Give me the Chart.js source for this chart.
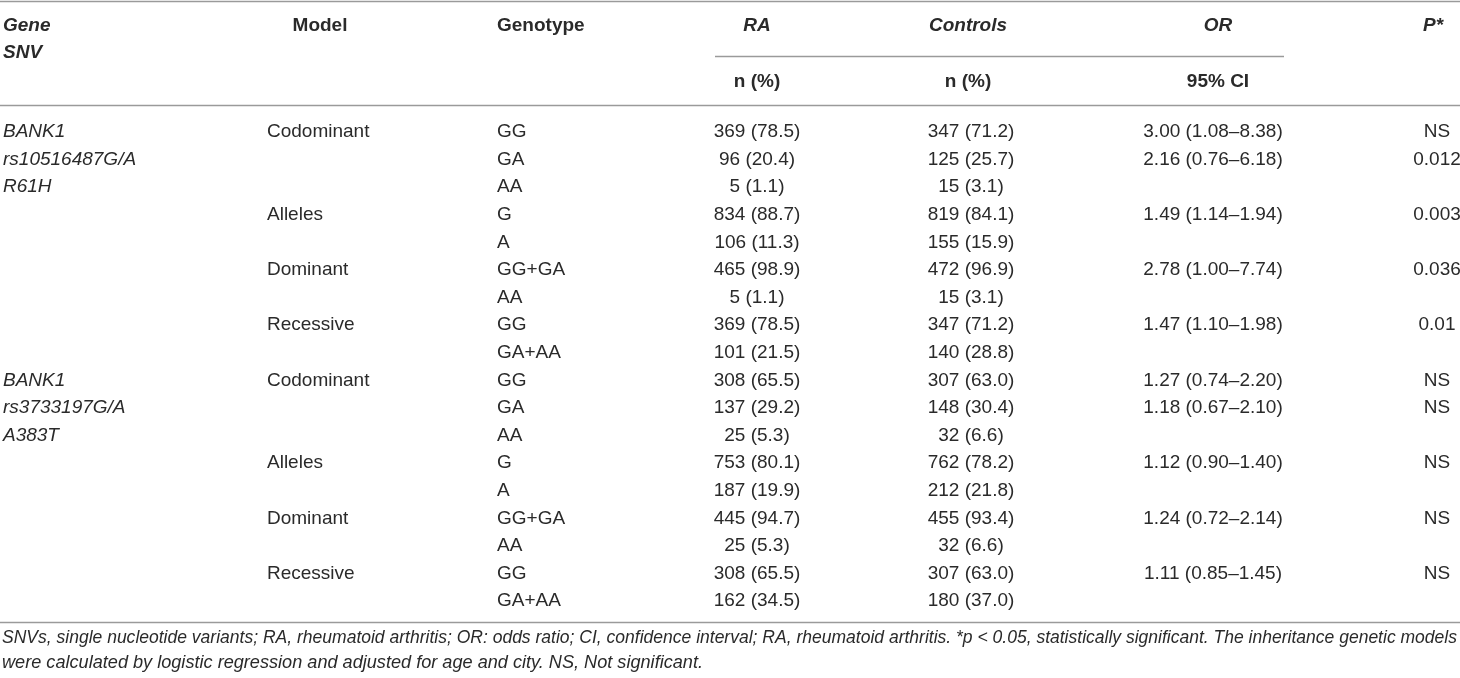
<!DOCTYPE html>
<html>
<head>
<meta charset="utf-8">
<script src="https://cdn.jsdelivr.net/npm/chart.js@4.4.1/dist/chart.umd.min.js"></script>
<style>
  html, body { margin: 0; padding: 0; background: #fff; }
  #wrap { width: 1460px; height: 678px; }
</style>
</head>
<body>
<div id="wrap"><canvas id="snvTable" width="1460" height="678"></canvas></div>
<script>
// table content
const geneBlocks = [['BANK1', 'rs10516487G/A', 'R61H'], ['BANK1', 'rs3733197G/A', 'A383T']];
const models = ['Codominant', '', '', 'Alleles', '', 'Dominant', '', 'Recessive', ''];
const genotypes = ['GG', 'GA', 'AA', 'G', 'A', 'GG+GA', 'AA', 'GG', 'GA+AA'];
const raN = [369, 96, 5, 834, 106, 465, 5, 369, 101, 308, 137, 25, 753, 187, 445, 25, 308, 162];
const raPct = [78.5, 20.4, 1.1, 88.7, 11.3, 98.9, 1.1, 78.5, 21.5, 65.5, 29.2, 5.3, 80.1, 19.9, 94.7, 5.3, 65.5, 34.5];
const ctrlN = [347, 125, 15, 819, 155, 472, 15, 347, 140, 307, 148, 32, 762, 212, 455, 32, 307, 180];
const ctrlPct = [71.2, 25.7, 3.1, 84.1, 15.9, 96.9, 3.1, 71.2, 28.8, 63.0, 30.4, 6.6, 78.2, 21.8, 93.4, 6.6, 63.0, 37.0];
const orVal = [3.00, 2.16, null, 1.49, null, 2.78, null, 1.47, null, 1.27, 1.18, null, 1.12, null, 1.24, null, 1.11, null];
const ciLow = [1.08, 0.76, null, 1.14, null, 1.00, null, 1.10, null, 0.74, 0.67, null, 0.90, null, 0.72, null, 0.85, null];
const ciHigh = [8.38, 6.18, null, 1.94, null, 7.74, null, 1.98, null, 2.20, 2.10, null, 1.40, null, 2.14, null, 1.45, null];
const pVals = ['NS', '0.012', '', '0.003', '', '0.036', '', '0.01', '', 'NS', 'NS', '', 'NS', '', 'NS', '', 'NS', ''];
const headers = ['Gene', 'Model', 'Genotype', 'RA', 'Controls', 'OR', 'P*'];
const subHeaders = ['n (%)', 'n (%)', '95% CI'];
const footnotes = [
  'SNVs, single nucleotide variants; RA, rheumatoid arthritis; OR: odds ratio; CI, confidence interval; RA, rheumatoid arthritis. *p < 0.05, statistically significant. The inheritance genetic models',
  'were calculated by logistic regression and adjusted for age and city. NS, Not significant.'
];

// layout
const colX = { gene: 3, model: 267, modelHead: 320, genotype: 497, ra: 757, ctrl: 971, ctrlHead: 968, or: 1213, orHead: 1218, p: 1437 };
const rowPos = { top: -4.75, head1: -3.84, head2: -2.86, subLine: -2.77, nRow: -1.81, headLine: -0.98, bottom: 17.75, foot1: 18.33, foot2: 19.24 };
const FONT = '"Liberation Sans", Arial, sans-serif';
const TEXT = '#2a2a2a';
const RULE = '#9a9a9a';

const nRows = raN.length;
const rows = [...Array(nRows).keys()];
const cell = (xv, texts) => rows.map(i => ({ x: xv, y: i, text: texts[i] }));

const geneText = rows.map(i => {
  const b = Math.floor(i / 9), k = i % 9;
  return k < 3 ? geneBlocks[b][k] : '';
});
const modelText = rows.map(i => models[i % 9]);
const genoText = rows.map(i => genotypes[i % 9]);
const raText = rows.map(i => `${raN[i]} (${raPct[i].toFixed(1)})`);
const ctrlText = rows.map(i => `${ctrlN[i]} (${ctrlPct[i].toFixed(1)})`);
const orText = rows.map(i => orVal[i] == null ? '' : `${orVal[i].toFixed(2)} (${ciLow[i].toFixed(2)}–${ciHigh[i].toFixed(2)})`);

const body = '19px ' + FONT;
const datasets = [
  { label: 'gene', data: cell(colX.gene, geneText), font: 'italic 19px ' + FONT, align: 'left' },
  { label: 'model', data: cell(colX.model, modelText), font: body, align: 'left' },
  { label: 'genotype', data: cell(colX.genotype, genoText), font: body, align: 'left' },
  { label: 'ra', data: cell(colX.ra, raText), font: body, align: 'center' },
  { label: 'ctrl', data: cell(colX.ctrl, ctrlText), font: body, align: 'center' },
  { label: 'or', data: cell(colX.or, orText), font: body, align: 'center' },
  { label: 'p', data: cell(colX.p, pVals), font: body, align: 'center' }
];

const tablePlugin = {
  id: 'tableText',
  afterDatasetsDraw(chart) {
    const { ctx, scales: { x, y } } = chart;
    ctx.save();
    ctx.textBaseline = 'middle';
    ctx.fillStyle = TEXT;

    // rules
    ctx.strokeStyle = RULE;
    ctx.lineWidth = 1.5;
    const hline = (r, x0, x1) => {
      const py = Math.round(y.getPixelForValue(r)) + 0.5;
      ctx.beginPath();
      ctx.moveTo(x.getPixelForValue(x0), py);
      ctx.lineTo(x.getPixelForValue(x1), py);
      ctx.stroke();
    };
    hline(rowPos.top, 0, 1460);
    hline(rowPos.subLine, 715, 1284);
    hline(rowPos.headLine, 0, 1460);
    hline(rowPos.bottom, 0, 1460);

    // header
    const txt = (s, xv, r, font, align) => {
      ctx.font = font;
      ctx.textAlign = align;
      ctx.fillText(s, x.getPixelForValue(xv), y.getPixelForValue(r));
    };
    const bi = 'italic bold 19px ' + FONT, b = 'bold 19px ' + FONT;
    txt(headers[0], colX.gene, rowPos.head1, bi, 'left');
    txt('SNV', colX.gene, rowPos.head2, bi, 'left');
    txt(headers[1], colX.modelHead, rowPos.head1, b, 'center');
    txt(headers[2], colX.genotype, rowPos.head1, b, 'left');
    txt(headers[3], colX.ra, rowPos.head1, bi, 'center');
    txt(headers[4], colX.ctrlHead, rowPos.head1, bi, 'center');
    txt(headers[5], colX.orHead, rowPos.head1, bi, 'center');
    txt(headers[6], colX.p - 4, rowPos.head1, bi, 'center');
    txt(subHeaders[0], colX.ra, rowPos.nRow, b, 'center');
    txt(subHeaders[1], colX.ctrlHead, rowPos.nRow, b, 'center');
    txt(subHeaders[2], colX.orHead, rowPos.nRow, b, 'center');

    // body cells, placed by the scales through each point element
    chart.data.datasets.forEach((ds, di) => {
      const meta = chart.getDatasetMeta(di);
      ctx.font = ds.font;
      ctx.textAlign = ds.align;
      meta.data.forEach((pt, i) => {
        const t = ds.data[i].text;
        if (t) ctx.fillText(t, pt.x, pt.y);
      });
    });

    // footnote, sized to the table width; second line stretched a little to the source length
    ctx.font = 'italic 18px ' + FONT;
    const fs = 18 * 1456 / ctx.measureText(footnotes[0]).width;
    const fFont = 'italic ' + fs.toFixed(2) + 'px ' + FONT;
    txt(footnotes[0], colX.gene - 1, rowPos.foot1, fFont, 'left');
    ctx.font = fFont;
    const k2 = 701 / ctx.measureText(footnotes[1]).width;
    ctx.save();
    ctx.translate(x.getPixelForValue(colX.gene - 1), y.getPixelForValue(rowPos.foot2));
    ctx.scale(k2, 1);
    ctx.textAlign = 'left';
    ctx.fillText(footnotes[1], 0, 0);
    ctx.restore();
    ctx.restore();
  }
};

new Chart(document.getElementById('snvTable'), {
  type: 'scatter',
  data: { datasets: datasets },
  options: {
    responsive: false,
    animation: false,
    events: [],
    layout: { padding: 0 },
    elements: { point: { radius: 0, hoverRadius: 0 } },
    plugins: { legend: { display: false }, tooltip: { enabled: false } },
    scales: {
      x: { type: 'linear', min: 0, max: 1460, display: false },
      y: { type: 'linear', min: -4.783, max: 19.783, reverse: true, display: false }
    }
  },
  plugins: [tablePlugin]
});
</script>
</body>
</html>
